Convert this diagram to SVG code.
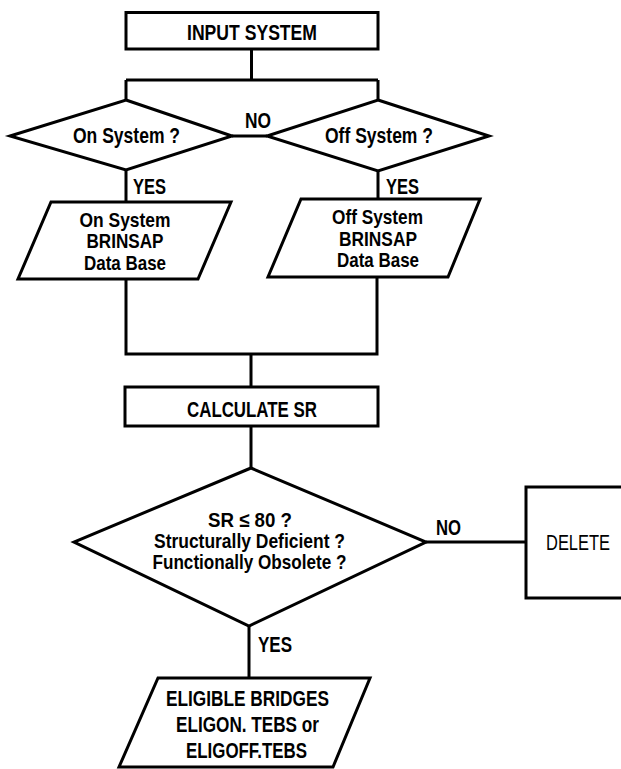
<svg xmlns="http://www.w3.org/2000/svg" width="621" height="769" viewBox="0 0 621 769">
<style>
.s{fill:#fff;stroke:#000;stroke-width:3;stroke-linejoin:miter}
.c{fill:none;stroke:#000;stroke-width:3}
text{font-family:"Liberation Sans",Arial,sans-serif;font-weight:bold;font-size:22px;fill:#000;text-anchor:middle}
.n{font-weight:normal;font-size:22px}
.d{font-size:20.5px}
.m{font-size:21px}
</style>
<rect width="621" height="769" fill="#fff"/>
<g id="connectors">
<path class="c" d="M251.5 49V80M126 80H378M126 80V100M378 80V100"/>
<path class="c" d="M232 136H267"/>
<path class="c" d="M126 170V202M378 171V199"/>
<path class="c" d="M126 279V354H377V277M251 354V387"/>
<path class="c" d="M251 426V468"/>
<path class="c" d="M426 542H526"/>
<path class="c" d="M249 626V678"/>
<text x="258" y="128" textLength="26" lengthAdjust="spacingAndGlyphs">NO</text>
<text x="149.5" y="194" textLength="33" lengthAdjust="spacingAndGlyphs">YES</text>
<text x="402.5" y="194" textLength="33" lengthAdjust="spacingAndGlyphs">YES</text>
<text x="448.5" y="535" textLength="25" lengthAdjust="spacingAndGlyphs">NO</text>
<text x="275" y="652" textLength="34" lengthAdjust="spacingAndGlyphs">YES</text>
</g>
<g id="input-system">
<rect class="s" x="126" y="12.5" width="252" height="36.5"/>
<text x="252" y="40" textLength="130" lengthAdjust="spacingAndGlyphs">INPUT SYSTEM</text>
</g>
<g id="on-system">
<polygon class="s" points="126,100 232,136 126,170 10,136"/>
<text x="126.5" y="143" textLength="107" lengthAdjust="spacingAndGlyphs">On System ?</text>
</g>
<g id="off-system">
<polygon class="s" points="378,100 489,136 378,171 267,136"/>
<text x="379" y="143" textLength="108" lengthAdjust="spacingAndGlyphs">Off System ?</text>
</g>
<g id="on-db">
<polygon class="s" points="51,202 231,202 198,279 18,279"/>
<text class="m" x="125" y="227" textLength="91" lengthAdjust="spacingAndGlyphs">On System</text>
<text class="m" x="125" y="248" textLength="77" lengthAdjust="spacingAndGlyphs">BRINSAP</text>
<text class="m" x="125" y="270" textLength="82" lengthAdjust="spacingAndGlyphs">Data Base</text>
</g>
<g id="off-db">
<polygon class="s" points="301,199 480,199 448,277 268,277"/>
<text class="m" x="377.5" y="224" textLength="91" lengthAdjust="spacingAndGlyphs">Off System</text>
<text class="m" x="378" y="246" textLength="78" lengthAdjust="spacingAndGlyphs">BRINSAP</text>
<text class="m" x="378" y="267" textLength="82" lengthAdjust="spacingAndGlyphs">Data Base</text>
</g>
<g id="calculate-sr">
<rect class="s" x="125" y="387" width="253" height="39"/>
<text x="252" y="417" textLength="130" lengthAdjust="spacingAndGlyphs">CALCULATE SR</text>
</g>
<g id="decision">
<polygon class="s" points="251,468 426,542 249,626 74,542"/>
<text class="d" x="250" y="527" textLength="84" lengthAdjust="spacingAndGlyphs">SR ≤ 80 ?</text>
<text class="d" x="249.5" y="548" textLength="191" lengthAdjust="spacingAndGlyphs">Structurally Deficient ?</text>
<text class="d" x="249.5" y="569" textLength="194" lengthAdjust="spacingAndGlyphs">Functionally Obsolete ?</text>
</g>
<g id="delete">
<path class="s" d="M621 487H526V598H621"/>
<text class="n" x="578" y="550" textLength="64" lengthAdjust="spacingAndGlyphs">DELETE</text>
</g>
<g id="eligible">
<polygon class="s" points="158,678 370,678 333,767 119,767"/>
<text x="247.5" y="706" textLength="163" lengthAdjust="spacingAndGlyphs">ELIGIBLE BRIDGES</text>
<text x="247.5" y="732" textLength="143" lengthAdjust="spacingAndGlyphs">ELIGON. TEBS or</text>
<text x="246.5" y="758" textLength="121" lengthAdjust="spacingAndGlyphs">ELIGOFF.TEBS</text>
</g>
</svg>
